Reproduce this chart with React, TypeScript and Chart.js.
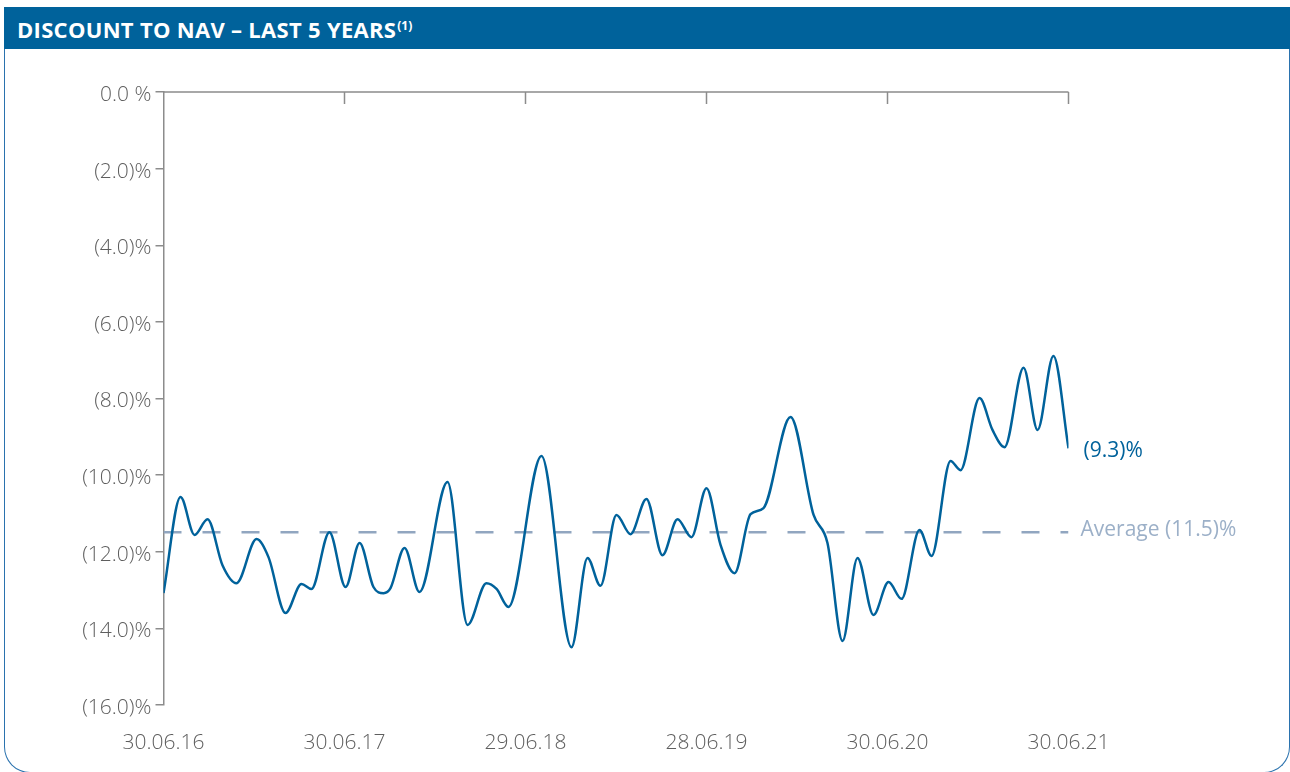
import React, { useEffect, useRef } from "react";
import { Chart, registerables } from "chart.js";

Chart.register(...registerables);

// Months since 30.06.16 (x) and discount to NAV in % (y)
const monthIndex = [
  0, 1.13, 2.06, 2.92, 3.91, 4.84, 6.17, 6.96, 8.09, 9.15, 9.81, 11.0, 12.07, 13.0, 13.92, 14.59,
  15.05, 15.98, 16.97, 18.83, 20.16, 21.41, 22.08, 22.87, 25.06, 27.05, 28.11, 28.97, 30.03, 30.96,
  32.02, 33.08, 34.08, 35.0, 36.0, 36.93, 37.86, 38.92, 39.78, 41.57, 43.1, 44.02, 45.02, 46.01,
  47.07, 48.07, 48.93, 50.12, 50.92, 52.18, 52.84, 54.1, 54.96, 55.76, 57.02, 57.95, 59.0, 60.0,
];
const discount = [
  -13.08, -10.57, -11.56, -11.15, -12.35, -12.82, -11.67, -12.14, -13.6, -12.84, -12.97, -11.49,
  -12.92, -11.77, -12.92, -13.08, -12.95, -11.9, -13.05, -10.18, -13.91, -12.82, -12.97, -13.44,
  -9.5, -14.49, -12.16, -12.89, -11.04, -11.54, -10.62, -12.09, -11.15, -11.62, -10.34, -11.82,
  -12.56, -11.02, -10.86, -8.48, -11.04, -11.77, -14.33, -12.16, -13.65, -12.79, -13.23, -11.43,
  -12.11, -9.63, -9.87, -7.99, -8.82, -9.27, -7.2, -8.82, -6.89, -9.3,
];
const averageValue = -11.49;
const averageLabel = "Average (11.5)%";
const lastLabel = "(9.3)%";
const xTickLabels = ["30.06.16", "30.06.17", "29.06.18", "28.06.19", "30.06.20", "30.06.21"];
const yTickLabels = ["(16.0)%", "(14.0)%", "(12.0)%", "(10.0)%", "(8.0)%", "(6.0)%", "(4.0)%", "(2.0)%", "0.0 %"];
const titleText = "DISCOUNT TO NAV \u2013 LAST 5 YEARS";
const titleNote = "(1)";

const BLUE = "#00629B";
const AXIS = "#8C8C8C";
const TICK_TEXT = "#5E5E5E";
const AVG = "#91A6C0";
const AVG_TEXT = "#9CB0C8";
const FONT = "'Open Sans', 'Noto Sans', sans-serif";

export default function App() {
  const ref = useRef<HTMLCanvasElement | null>(null);

  useEffect(() => {
    if (!ref.current) return;
    const decorations = {
      id: "decorations",
      afterDatasetsDraw(chart: any) {
        const { ctx, chartArea, scales } = chart;
        const xs = scales.x;
        const ys = scales.y;
        ctx.save();
        // top axis line with inward ticks
        ctx.strokeStyle = AXIS;
        ctx.lineWidth = 1.5;
        ctx.beginPath();
        ctx.moveTo(chartArea.left, chartArea.top);
        ctx.lineTo(chartArea.right, chartArea.top);
        for (let i = 1; i < xTickLabels.length; i++) {
          const px = xs.getPixelForValue(i * 12);
          ctx.moveTo(px, chartArea.top);
          ctx.lineTo(px, chartArea.top + 12);
        }
        ctx.stroke();
        // annotations
        ctx.font = `21px ${FONT}`;
        ctx.textBaseline = "middle";
        ctx.textAlign = "left";
        ctx.fillStyle = BLUE;
        const lastX = xs.getPixelForValue(monthIndex[monthIndex.length - 1]);
        const lastY = ys.getPixelForValue(discount[discount.length - 1]);
        ctx.fillText(lastLabel, lastX + 15, lastY + 3);
        ctx.fillStyle = AVG_TEXT;
        ctx.fillText(averageLabel, lastX + 12, ys.getPixelForValue(averageValue) - 2);
        ctx.restore();
      },
    };

    const chart = new Chart(ref.current, {
      type: "line",
      data: {
        datasets: [
          {
            data: monthIndex.map((m, i) => ({ x: m, y: discount[i] })),
            borderColor: BLUE,
            borderWidth: 2.5,
            pointRadius: 0,
            cubicInterpolationMode: "monotone",
            fill: false,
            order: 0,
          },
          {
            data: [
              { x: 0, y: averageValue },
              { x: 60, y: averageValue },
            ],
            borderColor: AVG,
            borderWidth: 2.5,
            borderDash: [18, 21],
            pointRadius: 0,
            fill: false,
            order: 1,
          },
        ],
      },
      options: {
        responsive: false,
        animation: false,
        events: [],
        layout: { padding: { left: 0, top: 92, right: 221.5, bottom: 0 } },
        plugins: { legend: { display: false }, tooltip: { enabled: false }, title: { display: false } },
        scales: {
          x: {
            type: "linear",
            min: 0,
            max: 60,
            grid: { display: false, drawTicks: false, tickLength: 0 },
            border: { display: false },
            ticks: {
              stepSize: 12,
              autoSkip: false,
              maxRotation: 0,
              padding: 25,
              color: TICK_TEXT,
              font: { family: FONT, size: 21, weight: "300" as any },
              callback: (v: any) => xTickLabels[Math.round(Number(v) / 12)] ?? "",
            },
            afterFit: (s: any) => {
              s.height = 67;
            },
          },
          y: {
            min: -16,
            max: 0,
            grid: { display: true, drawOnChartArea: false, drawTicks: true, tickLength: 8, color: AXIS, lineWidth: 1.5 },
            border: { display: true, color: AXIS, width: 1.5 },
            ticks: {
              stepSize: 2,
              padding: 4,
              labelOffset: 3,
              color: TICK_TEXT,
              font: { family: FONT, size: 21, weight: "300" as any },
              callback: (v: any) => yTickLabels[Math.round((Number(v) + 16) / 2)] ?? "",
            },
            afterFit: (s: any) => {
              s.width = 163.5;
            },
          },
        },
      },
      plugins: [decorations],
    } as any);
    return () => chart.destroy();
  }, []);

  return (
    <div style={{ position: "absolute", left: 0, top: 0, width: 1290, height: 772, overflow: "hidden", background: "#fff" }}>
      <div style={{ position: "absolute", left: 4, top: 7, width: 1286, height: 42, background: BLUE }} />
      <div
        style={{
          position: "absolute",
          left: 17,
          top: 14,
          color: "#fff",
          fontFamily: FONT,
          fontWeight: 700,
          fontSize: 22,
          lineHeight: "normal",
          whiteSpace: "nowrap",
          letterSpacing: "0.3px",
        }}
      >
        {titleText}
        <span style={{ fontSize: 12, verticalAlign: "8px", marginLeft: 1, letterSpacing: 0 }}>{titleNote}</span>
      </div>
      <div
        style={{
          position: "absolute",
          left: 4,
          top: 49,
          width: 1284,
          height: 723,
          border: "1.2px solid #2A72AE",
          borderTop: "none",
          borderBottomLeftRadius: 26,
          borderBottomRightRadius: 26,
        }}
      />
      <canvas ref={ref} width={1290} height={772} style={{ position: "absolute", left: 0, top: 0, width: 1290, height: 772 }} />
    </div>
  );
}
